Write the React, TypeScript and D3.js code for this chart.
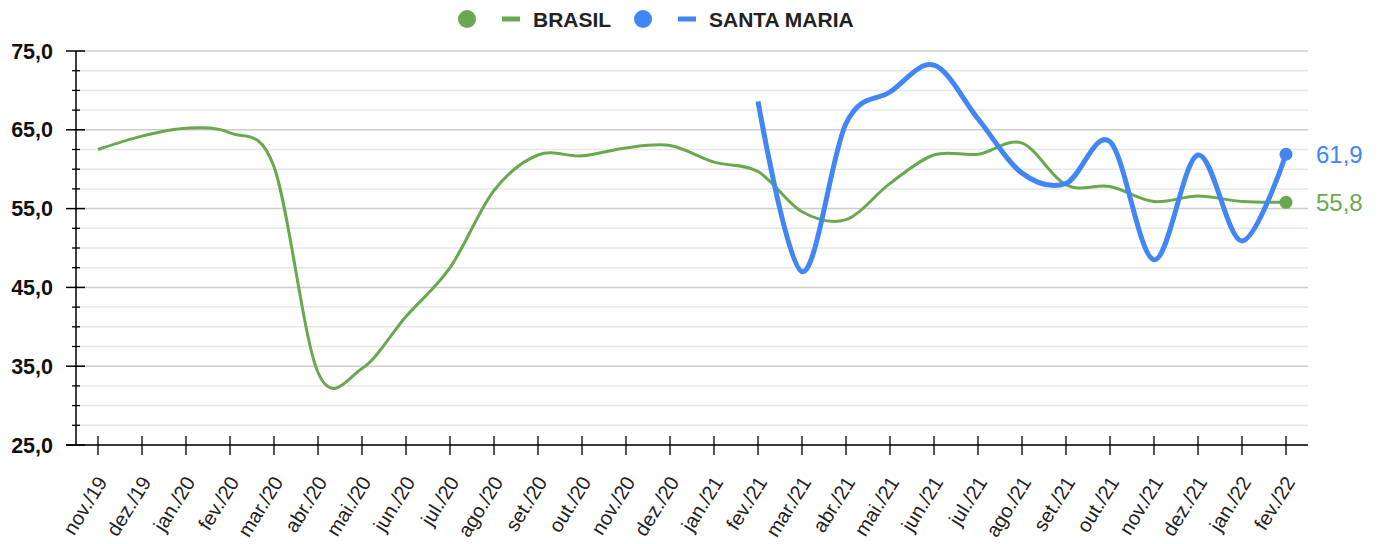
import * as d3 from "d3";
import React, { useEffect, useRef } from "react";

const months = [
  "nov./19", "dez./19",
  "jan./20", "fev./20", "mar./20", "abr./20", "mai./20", "jun./20",
  "jul./20", "ago./20", "set./20", "out./20", "nov./20", "dez./20",
  "jan./21", "fev./21", "mar./21", "abr./21", "mai./21", "jun./21",
  "jul./21", "ago./21", "set./21", "out./21", "nov./21", "dez./21",
  "jan./22", "fev./22",
];

const brasil = [
  62.5, 64.2,
  65.2, 64.6, 60.3, 34.2, 34.7, 41.3,
  47.5, 57.3, 61.8, 61.7, 62.7, 63.0,
  60.9, 59.7, 54.6, 53.6, 58.2, 61.8,
  61.9, 63.3, 58.0, 57.8, 55.9, 56.6,
  55.9, 55.8,
];

const santaMaria = [
  null, null,
  null, null, null, null, null, null,
  null, null, null, null, null, null,
  null, 68.6, 47.0, 65.8, 69.8, 73.2,
  66.4, 59.5, 58.2, 63.5, 48.5, 61.8,
  50.9, 61.9,
];

const yTicks = [25, 35, 45, 55, 65, 75];

const GREEN = "#6aa84f";
const BLUE = "#4285f4";
const FONT = "Liberation Sans, Arial, sans-serif";

export default function App() {
  const ref = useRef(null);

  useEffect(() => {
    const width = 1385;
    const height = 544;
    const m = { left: 76, right: 77, top: 51, bottom: 99 };

    const svg = d3.select(ref.current);
    svg.selectAll("*").remove();

    const x = d3
      .scaleBand()
      .domain(months)
      .range([m.left, width - m.right]);
    const cx = (d) => x(d) + x.bandwidth() / 2;

    const y = d3
      .scaleLinear()
      .domain([25, 75])
      .range([height - m.bottom, m.top]);

    // minor grid every 2.5 (4 per major step of 10)
    const minor = d3.range(25, 75.01, 2.5).filter((v) => (v - 25) % 10 !== 0);

    svg
      .append("g")
      .selectAll("line")
      .data(minor)
      .join("line")
      .attr("x1", m.left)
      .attr("x2", width - m.right)
      .attr("y1", (d) => y(d))
      .attr("y2", (d) => y(d))
      .attr("stroke", "#e6e6e6")
      .attr("stroke-width", 1.5);

    svg
      .append("g")
      .selectAll("line")
      .data(yTicks)
      .join("line")
      .attr("x1", m.left)
      .attr("x2", width - m.right)
      .attr("y1", (d) => y(d))
      .attr("y2", (d) => y(d))
      .attr("stroke", "#cccccc")
      .attr("stroke-width", 1.5);

    // y axis
    const yAxis = svg.append("g");
    yAxis
      .append("line")
      .attr("x1", m.left)
      .attr("x2", m.left)
      .attr("y1", y(75))
      .attr("y2", y(25))
      .attr("stroke", "#000")
      .attr("stroke-width", 1.5);
    yAxis
      .append("g")
      .selectAll("line")
      .data(minor)
      .join("line")
      .attr("x1", m.left - 4)
      .attr("x2", m.left + 4)
      .attr("y1", (d) => y(d))
      .attr("y2", (d) => y(d))
      .attr("stroke", "#000")
      .attr("stroke-width", 1.3);
    yAxis
      .append("g")
      .selectAll("line")
      .data(yTicks)
      .join("line")
      .attr("x1", m.left - 10)
      .attr("x2", m.left + 9)
      .attr("y1", (d) => y(d))
      .attr("y2", (d) => y(d))
      .attr("stroke", "#000")
      .attr("stroke-width", 1.5);
    yAxis
      .append("g")
      .selectAll("text")
      .data(yTicks)
      .join("text")
      .attr("x", 53)
      .attr("y", (d) => y(d) + 7.5)
      .attr("text-anchor", "end")
      .attr("font-family", FONT)
      .attr("font-weight", "bold")
      .attr("font-size", 21.5)
      .attr("fill", "#111")
      .text((d) => d.toFixed(1).replace(".", ","));

    // x axis
    const xAxis = svg.append("g");
    xAxis
      .append("line")
      .attr("x1", m.left - 10)
      .attr("x2", width - m.right)
      .attr("y1", y(25))
      .attr("y2", y(25))
      .attr("stroke", "#000")
      .attr("stroke-width", 1.5);
    xAxis
      .append("g")
      .selectAll("line")
      .data(months)
      .join("line")
      .attr("x1", (d) => cx(d))
      .attr("x2", (d) => cx(d))
      .attr("y1", y(25) - 9)
      .attr("y2", y(25) + 10)
      .attr("stroke", "#000")
      .attr("stroke-width", 1.3);
    xAxis
      .append("g")
      .selectAll("text")
      .data(months)
      .join("text")
      .attr("transform", (d) => `translate(${cx(d) + 10},${y(25) + 37}) rotate(-58)`)
      .attr("text-anchor", "end")
      .attr("font-family", FONT)
      .attr("font-size", 20)
      .attr("fill", "#222")
      .text((d) => d);

    // lines
    const line = d3
      .line()
      .defined((d) => d[1] != null)
      .x((d) => cx(d[0]))
      .y((d) => y(d[1]))
      .curve(d3.curveCatmullRom.alpha(0));

    svg
      .append("path")
      .datum(months.map((d, i) => [d, brasil[i]]))
      .attr("fill", "none")
      .attr("stroke", GREEN)
      .attr("stroke-width", 3)
      .attr("d", line);

    svg
      .append("path")
      .datum(months.map((d, i) => [d, santaMaria[i]]).filter((d) => d[1] != null))
      .attr("fill", "none")
      .attr("stroke", BLUE)
      .attr("stroke-width", 5)
      .attr("d", line);

    // end points and labels
    const last = months[months.length - 1];
    const ends = [
      { v: brasil[brasil.length - 1], c: GREEN },
      { v: santaMaria[santaMaria.length - 1], c: BLUE },
    ];
    svg
      .append("g")
      .selectAll("circle")
      .data(ends)
      .join("circle")
      .attr("cx", cx(last))
      .attr("cy", (d) => y(d.v))
      .attr("r", 6.5)
      .attr("fill", (d) => d.c);
    svg
      .append("g")
      .selectAll("text")
      .data(ends)
      .join("text")
      .attr("x", cx(last) + 30)
      .attr("y", (d) => y(d.v) + 9)
      .attr("font-family", FONT)
      .attr("font-size", 24)
      .attr("fill", (d) => d.c)
      .text((d) => d.v.toFixed(1).replace(".", ","));

    // legend
    const legend = [
      { name: "BRASIL", c: GREEN, x: 467 },
      { name: "SANTA MARIA", c: BLUE, x: 643 },
    ];
    const lg = svg.append("g").selectAll("g").data(legend).join("g");
    lg.append("circle")
      .attr("cx", (d) => d.x)
      .attr("cy", 19)
      .attr("r", 9)
      .attr("fill", (d) => d.c);
    lg.append("rect")
      .attr("x", (d) => d.x + 35)
      .attr("y", 16.5)
      .attr("width", 18)
      .attr("height", 5)
      .attr("fill", (d) => d.c);
    lg.append("text")
      .attr("x", (d) => d.x + 66)
      .attr("y", 27)
      .attr("font-family", FONT)
      .attr("font-weight", "bold")
      .attr("font-size", 21)
      .attr("fill", "#222")
      .text((d) => d.name);
  }, []);

  return (
    <svg
      ref={ref}
      width={1385}
      height={544}
      style={{ position: "absolute", left: 0, top: 0, background: "#fff" }}
    />
  );
}
